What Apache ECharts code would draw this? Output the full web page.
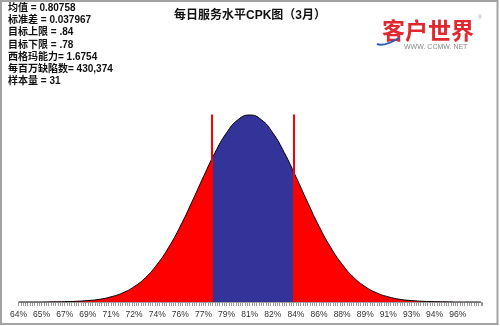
<!DOCTYPE html>
<html>
<head>
<meta charset="utf-8">
<script src="https://cdn.jsdelivr.net/npm/echarts@6/dist/echarts.min.js"></script>
<style>
  html, body { margin: 0; padding: 0; background: #ffffff; }
  #chart { width: 500px; height: 326px; }
</style>
</head>
<body>
<div id="chart"></div>
<script>
// Tick labels along the measurement axis, one per major step
const tickLabels = ['64%', '65%', '67%', '69%', '71%', '72%', '74%', '76%', '77%', '79%',
                    '81%', '82%', '84%', '86%', '88%', '89%', '91%', '93%', '94%', '96%'];

// Fitted distribution: sample positions (in major-tick steps) and density heights
const curveX = [0, 0.5, 1, 1.5, 2, 2.5, 3, 3.5, 4, 4.5, 5, 5.5, 6, 6.5, 7, 7.5, 8, 8.5, 9, 9.5,
                10, 10.5, 11, 11.5, 12, 12.5, 13, 13.5, 14, 14.5, 15, 15.5, 16, 16.5, 17, 17.5,
                18, 18.5, 19, 19.5, 20];
const curveY = [0, 0, 0, 0.01, 0.02, 0.04, 0.08, 0.15, 0.29, 0.51, 0.86, 1.38, 2.12, 3.08, 4.26,
                5.62, 7.04, 8.39, 9.51, 10.25, 10.51, 10.25, 9.51, 8.39, 7.04, 5.62, 4.26, 3.08,
                2.12, 1.38, 0.86, 0.51, 0.29, 0.15, 0.08, 0.04, 0.02, 0.01, 0, 0, 0];

// Process statistics
const processMean = 0.80758;
const tickStep = 0.017;          // measurement units per major tick
const meanTickIndex = 10;        // tick position of the mean
const lowerSpec = 0.78;
const upperSpec = 0.84;
const specLineTop = 10.54;

// Summary block in the upper-left corner
const statLines = [
  '均值 = 0.80758',
  '标准差 = 0.037967',
  '目标上限 = .84',
  '目标下限 = .78',
  '西格玛能力= 1.6754',
  '每百万缺陷数= 430,374',
  '样本量 = 31'
];

const chartTitle = '每日服务水平CPK图（3月）';
const brandName = '客户世界';
const brandUrl = 'WWW. CCMW. NET';

// measurement value -> position on the tick axis
function toAxis(v) {
  return meanTickIndex + (v - processMean) / tickStep;
}

const curveData = curveX.map((x, i) => [x, curveY[i]]);
const lo = toAxis(lowerSpec);
const hi = toAxis(upperSpec);

const chart = echarts.init(document.getElementById('chart'), null, { renderer: 'canvas' });

const graphics = [
  {
    type: 'rect', silent: true, z: 100,
    shape: { x: 1, y: 1, width: 496.5, height: 323 },
    style: { fill: 'none', stroke: '#a3a3a3', lineWidth: 2 }
  },
  {
    type: 'text', left: 'center', top: 10, z: 100,
    style: {
      text: chartTitle, fill: '#111111',
      font: 'bold 12px "Liberation Sans", "Noto Sans CJK SC", sans-serif'
    }
  },
  {
    type: 'text', x: 382, y: 19, z: 100,
    style: {
      text: brandName, fill: '#e0282e',
      font: 'bold 23px "Noto Sans CJK SC", sans-serif'
    }
  },
  {
    type: 'text', x: 478, y: 15, z: 100,
    style: { text: '®', fill: '#999999', font: '5px "Liberation Sans", sans-serif' }
  },
  {
    type: 'text', x: 404, y: 44, z: 100,
    style: { text: brandUrl, fill: '#8a8a8a', font: '7px "Liberation Sans", sans-serif' }
  },
  {
    type: 'bezierCurve', z: 100, silent: true,
    shape: { x1: 377, y1: 44, cpx1: 384, cpy1: 47, x2: 399, y2: 38 },
    style: { stroke: '#2a62b8', lineWidth: 2, fill: 'none' }
  }
];

statLines.forEach((line, i) => {
  graphics.push({
    type: 'text', x: 8, y: 3.5 + i * 12.1, z: 100,
    style: {
      text: line, fill: '#111111',
      font: 'bold 10px "Liberation Sans", "Noto Sans CJK SC", sans-serif'
    }
  });
});

chart.setOption({
  animation: false,
  backgroundColor: '#ffffff',
  grid: { left: 18.5, right: 18, top: 106.3, bottom: 24, containLabel: false },
  xAxis: {
    type: 'value',
    min: 0,
    max: 20.05,
    interval: 1,
    splitLine: { show: false },
    axisLine: { show: true, lineStyle: { color: '#9a9a9a', width: 1 } },
    axisTick: { show: true, length: 4, lineStyle: { color: '#9a9a9a', width: 1 } },
    minorTick: { show: true, splitNumber: 10, length: 4, lineStyle: { color: '#9a9a9a', width: 1 } },
    axisLabel: {
      show: true,
      margin: 8,
      color: '#333333',
      fontSize: 8.5,
      fontFamily: '"Liberation Sans", sans-serif',
      hideOverlap: false,
      showMinLabel: true,
      showMaxLabel: true,
      formatter: function (v) {
        const idx = Math.round(v);
        return (Math.abs(v - idx) < 1e-6 && idx < tickLabels.length) ? tickLabels[idx] : '';
      }
    }
  },
  yAxis: {
    type: 'value', min: 0, max: 11, show: false,
    splitLine: { show: false }
  },
  visualMap: {
    show: false,
    type: 'piecewise',
    dimension: 0,
    seriesIndex: 0,
    pieces: [{ gte: lo, lte: hi, color: '#333399' }],
    outOfRange: { color: '#ff0000' }
  },
  series: [
    {
      // filled distribution: red outside the spec limits, blue inside
      type: 'line',
      data: curveData,
      smooth: true,
      symbol: 'none',
      silent: true,
      z: 2,
      lineStyle: { width: 0, opacity: 0 },
      areaStyle: { opacity: 1 }
    },
    {
      // curve outline and spec limit markers
      type: 'line',
      data: curveData,
      smooth: true,
      symbol: 'none',
      silent: true,
      z: 3,
      lineStyle: { color: '#000000', width: 1 },
      markLine: {
        silent: true,
        symbol: ['none', 'none'],
        label: { show: false },
        lineStyle: { color: '#ff0000', width: 2, type: 'solid' },
        data: [
          [{ coord: [lo, 0] }, { coord: [lo, specLineTop] }],
          [{ coord: [hi, 0] }, { coord: [hi, specLineTop] }]
        ]
      }
    }
  ],
  graphic: graphics
});
</script>
</body>
</html>
